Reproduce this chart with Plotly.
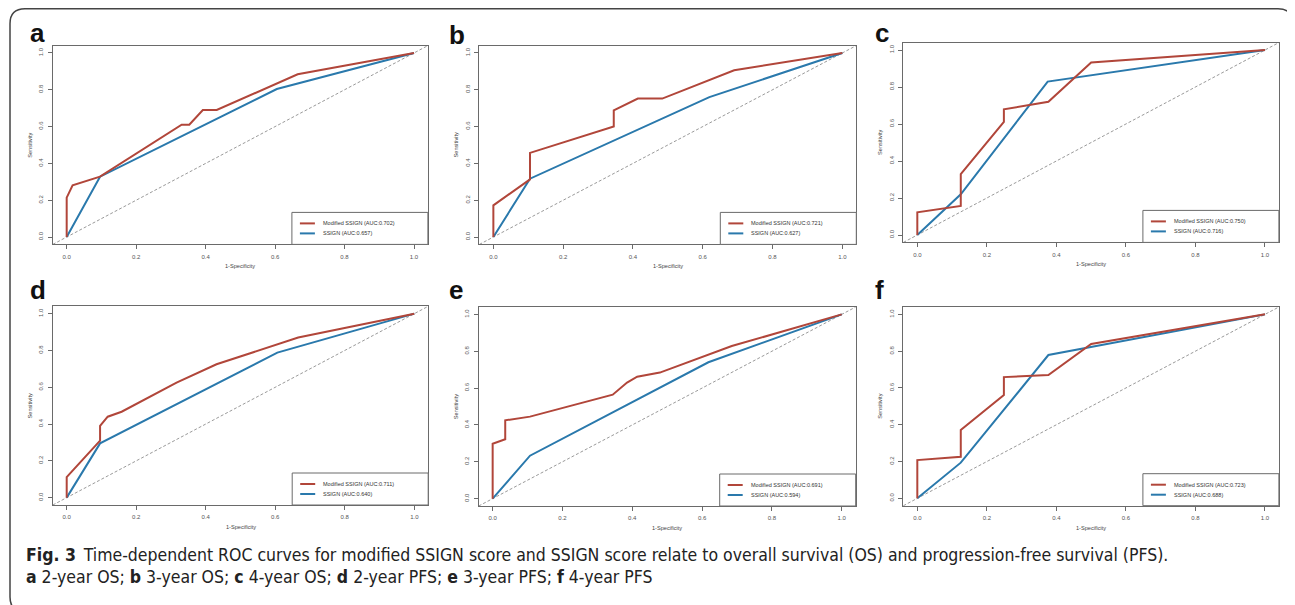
import plotly.graph_objects as go

# ---------------- data ----------------
panel_letters = ["a", "b", "c", "d", "e", "f"]

a_mod_fpr = [0, 0, 0.017, 0.096, 0.331, 0.353, 0.392, 0.432, 0.665, 1.0]
a_mod_tpr = [0, 0.214, 0.281, 0.328, 0.61, 0.61, 0.69, 0.69, 0.884, 1.0]
a_ssign_fpr = [0, 0.096, 0.605, 1.0]
a_ssign_tpr = [0, 0.328, 0.804, 1.0]

b_mod_fpr = [0, 0, 0.105, 0.105, 0.345, 0.345, 0.414, 0.484, 0.69, 1.0]
b_mod_tpr = [0, 0.172, 0.313, 0.457, 0.601, 0.688, 0.752, 0.752, 0.906, 1.0]
b_ssign_fpr = [0, 0.105, 0.619, 1.0]
b_ssign_tpr = [0, 0.317, 0.76, 1.0]

c_mod_fpr = [0, 0, 0.125, 0.125, 0.249, 0.249, 0.377, 0.5, 1.0]
c_mod_tpr = [0, 0.123, 0.157, 0.329, 0.612, 0.679, 0.72, 0.933, 1.0]
c_ssign_fpr = [0, 0.125, 0.375, 1.0]
c_ssign_tpr = [0, 0.22, 0.829, 1.0]

d_mod_fpr = [0, 0, 0.096, 0.096, 0.118, 0.158, 0.316, 0.431, 0.666, 1.0]
d_mod_tpr = [0, 0.112, 0.31, 0.39, 0.44, 0.467, 0.625, 0.725, 0.87, 1.0]
d_ssign_fpr = [0, 0.096, 0.606, 1.0]
d_ssign_tpr = [0, 0.295, 0.788, 1.0]

e_mod_fpr = [0, 0, 0.036, 0.036, 0.107, 0.344, 0.385, 0.414, 0.479, 0.685, 1.0]
e_mod_tpr = [0, 0.298, 0.322, 0.425, 0.445, 0.564, 0.63, 0.662, 0.684, 0.828, 1.0]
e_ssign_fpr = [0, 0.107, 0.618, 1.0]
e_ssign_tpr = [0, 0.233, 0.74, 1.0]

f_mod_fpr = [0, 0, 0.125, 0.125, 0.249, 0.249, 0.377, 0.5, 1.0]
f_mod_tpr = [0, 0.208, 0.226, 0.371, 0.562, 0.659, 0.67, 0.839, 1.0]
f_ssign_fpr = [0, 0.125, 0.377, 0.5, 1.0]
f_ssign_tpr = [0, 0.194, 0.779, 0.822, 1.0]

mod_auc = ["0.702", "0.721", "0.750", "0.711", "0.691", "0.723"]
ssign_auc = ["0.657", "0.627", "0.716", "0.640", "0.594", "0.688"]

mod_fpr = [a_mod_fpr, b_mod_fpr, c_mod_fpr, d_mod_fpr, e_mod_fpr, f_mod_fpr]
mod_tpr = [a_mod_tpr, b_mod_tpr, c_mod_tpr, d_mod_tpr, e_mod_tpr, f_mod_tpr]
ssign_fpr = [a_ssign_fpr, b_ssign_fpr, c_ssign_fpr, d_ssign_fpr, e_ssign_fpr, f_ssign_fpr]
ssign_tpr = [a_ssign_tpr, b_ssign_tpr, c_ssign_tpr, d_ssign_tpr, e_ssign_tpr, f_ssign_tpr]

tick_values = [0, 0.2, 0.4, 0.6, 0.8, 1.0]
tick_labels = ["0.0", "0.2", "0.4", "0.6", "0.8", "1.0"]
x_title = "1-Specificity"
y_title = "Sensitivity"
mod_name = "Modified SSIGN"
ssign_name = "SSIGN"

caption_line1 = ("<b>Fig. 3</b>\u2002Time-dependent ROC curves for modified SSIGN score and SSIGN "
                 "score relate to overall survival (OS) and progression-free survival (PFS).")
caption_line2 = ("<b>a</b> 2-year OS; <b>b</b> 3-year OS; <b>c</b> 4-year OS; "
                 "<b>d</b> 2-year PFS; <b>e</b> 3-year PFS; <b>f</b> 4-year PFS")

# ---------------- layout / style ----------------
# The page body has an 8px margin, so the figure is 8px smaller and all
# reference pixel positions are shifted by that offset.
OFF = 8
W, H = 1295 - OFF, 605 - OFF
RED = "#B1463A"
BLUE = "#2A79AC"
AX_COL = "#6a6a6a"
TXT_COL = "#555555"
FONT = "Liberation Sans, Arial, sans-serif"
CAP_FONT = "Liberation Sans Narrow, DejaVu Sans Condensed, Arial Narrow, sans-serif"


def px(v):
    return v / W


def py(v):
    return 1 - v / H


# pixel boxes of the plot regions in the reference (left, right, top, bottom)
boxes_ref = [
    (52.8, 427.9, 45.6, 244.4),
    (479.4, 856.3, 45.6, 244.4),
    (903.4, 1278.9, 42.6, 242.4),
    (52.8, 428.2, 306.3, 505.0),
    (478.7, 855.7, 307.0, 506.0),
    (903.4, 1278.9, 307.0, 505.7),
]
boxes = [(l - OFF, r - OFF, t - OFF, b - OFF) for (l, r, t, b) in boxes_ref]
letter_pos = [(28 - OFF, 44 - OFF), (447 - OFF, 46 - OFF), (873 - OFF, 44 - OFF),
              (28 - OFF, 301 - OFF), (447 - OFF, 301 - OFF), (873 - OFF, 301 - OFF)]

fig = go.Figure()
shapes = []
annotations = []

for i in range(6):
    n = "" if i == 0 else str(i + 1)
    xa, ya = "x" + n, "y" + n
    l, r, t, b = boxes[i]
    wpx, hpx = r - l, b - t

    fig.add_trace(go.Scatter(x=ssign_fpr[i], y=ssign_tpr[i], mode="lines",
                             line=dict(color=BLUE, width=2), xaxis=xa, yaxis=ya,
                             showlegend=False, hoverinfo="skip"))
    fig.add_trace(go.Scatter(x=mod_fpr[i], y=mod_tpr[i], mode="lines",
                             line=dict(color=RED, width=2), xaxis=xa, yaxis=ya,
                             showlegend=False, hoverinfo="skip"))

    axis_common = dict(range=[-0.04, 1.04], showgrid=False, zeroline=False,
                       showline=True, linecolor=AX_COL, linewidth=1, mirror=True,
                       ticks="outside", ticklen=4, tickcolor=AX_COL, tickwidth=1,
                       tickvals=tick_values, ticktext=tick_labels,
                       tickfont=dict(family=FONT, size=6, color=TXT_COL),
                       fixedrange=True)
    fig.layout["xaxis" + n] = dict(axis_common, domain=[px(l), px(r)], anchor=ya,
                                   ticklabelstandoff=2)
    fig.layout["yaxis" + n] = dict(axis_common, domain=[py(b), py(t)],
                                   anchor=xa, tickangle=-90, ticklabelstandoff=2)

    xd, yd = xa + " domain", ya + " domain"
    # reference diagonal (abline 0,1) across the whole plot region
    shapes.append(dict(type="line", xref=xd, yref=yd, x0=0, y0=0, x1=1, y1=1,
                       line=dict(color="#9a9a9a", width=1, dash="3px,2px"), layer="below"))

    # legend (bottom right, R style)
    lw, lh = 136, 32
    lx0 = 1 - lw / wpx
    shapes.append(dict(type="rect", xref=xd, yref=yd, x0=lx0, x1=1, y0=0, y1=lh / hpx,
                       line=dict(color=AX_COL, width=1), fillcolor="white", layer="above"))
    for k, (col, name, auc) in enumerate([(RED, mod_name, mod_auc[i]),
                                          (BLUE, ssign_name, ssign_auc[i])]):
        yrow = (lh - 11 - 10 * k) / hpx
        shapes.append(dict(type="line", xref=xd, yref=yd,
                           x0=lx0 + 8 / wpx, x1=lx0 + 23 / wpx, y0=yrow, y1=yrow,
                           line=dict(color=col, width=2), layer="above"))
        annotations.append(dict(xref=xd, yref=yd, x=lx0 + 29 / wpx, y=yrow,
                                text=f"{name} (AUC:{auc})", showarrow=False,
                                xanchor="left", yanchor="middle",
                                font=dict(family=FONT, size=5.5, color="#333333")))

    # axis titles
    annotations.append(dict(xref=xd, yref="paper", x=0.5, y=py(b + 22),
                            text=x_title, showarrow=False, xanchor="center",
                            yanchor="middle", font=dict(family=FONT, size=5.6, color="#444444")))
    annotations.append(dict(xref="paper", yref=yd, x=px(l - 23), y=0.5,
                            text=y_title, showarrow=False, textangle=-90,
                            xanchor="center", yanchor="middle",
                            font=dict(family=FONT, size=5.6, color="#444444")))

    # panel letter
    lxp, lyp = letter_pos[i]
    annotations.append(dict(xref="paper", yref="paper", x=px(lxp), y=py(lyp + 6),
                            text=f"<b>{panel_letters[i]}</b>", showarrow=False,
                            xanchor="left", yanchor="bottom",
                            font=dict(family=FONT, size=26, color="#111111")))

# caption
annotations.append(dict(xref="paper", yref="paper", x=px(24 - OFF), y=py(555 - OFF),
                        text=caption_line1, showarrow=False, xanchor="left",
                        yanchor="middle", font=dict(family=CAP_FONT, size=17.5, color="#222222")))
annotations.append(dict(xref="paper", yref="paper", x=px(24 - OFF), y=py(577 - OFF),
                        text=caption_line2, showarrow=False, xanchor="left",
                        yanchor="middle", font=dict(family=CAP_FONT, size=17.5, color="#222222")))

# outer rounded frame
x0, x1 = px(10 - OFF), px(1293 - OFF)
y1, y0 = py(8.8 - OFF), py(612 - OFF)
rx, ry = 15 / W, 15 / H
path = (f"M {x0+rx},{y1} L {x1-rx},{y1} Q {x1},{y1} {x1},{y1-ry} "
        f"L {x1},{y0+ry} Q {x1},{y0} {x1-rx},{y0} L {x0+rx},{y0} "
        f"Q {x0},{y0} {x0},{y0+ry} L {x0},{y1-ry} Q {x0},{y1} {x0+rx},{y1} Z")
shapes.append(dict(type="path", xref="paper", yref="paper", path=path,
                   line=dict(color="#444444", width=1.5)))

fig.update_layout(width=W, height=H, margin=dict(l=0, r=0, t=0, b=0),
                  paper_bgcolor="white", plot_bgcolor="white",
                  shapes=shapes, annotations=annotations, showlegend=False)

fig.write_html("out.html")
